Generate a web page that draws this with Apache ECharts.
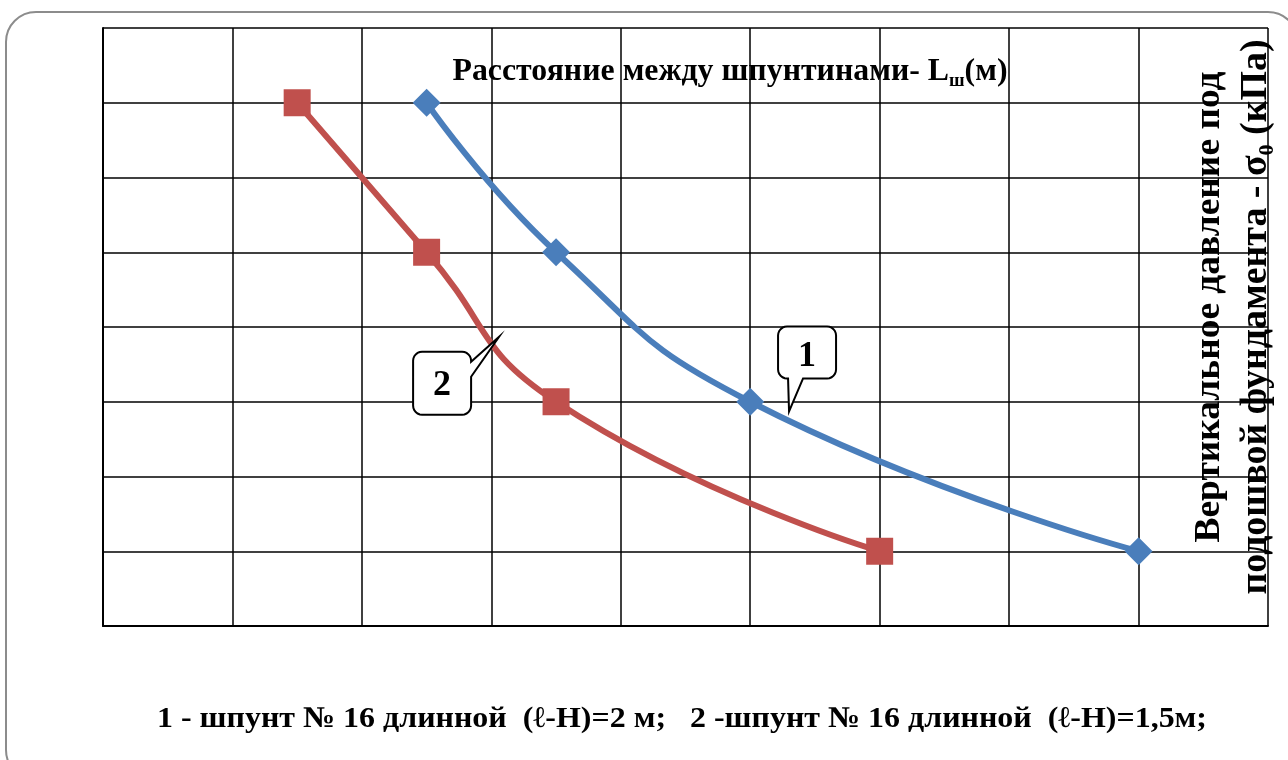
<!DOCTYPE html>
<html>
<head>
<meta charset="utf-8">
<script src="https://cdn.jsdelivr.net/npm/echarts@6/dist/echarts.min.js"></script>
<style>
html,body{margin:0;padding:0;background:#fff;}
#chart{width:1288px;height:760px;}
</style>
</head>
<body>
<div id="chart"></div>
<script>
// ---- data ----
const series1Name = '1';
const series1X = [2.5, 3.5, 5, 8];
const series1Y = [7, 5, 3, 1];
const series2Name = '2';
const series2X = [1.5, 2.5, 3.5, 6];
const series2Y = [7, 5, 3, 1];
const xRange = [0, 9];
const yRange = [0, 8];
const xTitleMain = 'Расстояние между шпунтинами- L';
const xTitleSub = 'ш';
const xTitleEnd = '(м)';
const yTitle1 = 'Вертикальное давление под';
const yTitle2a = 'подошвой фундамента - σ';
const yTitle2sub = '0';
const yTitle2b = ' (кПа)';
const legendText = '1 - шпунт № 16 длинной  (ℓ-H)=2 м;   2 -шпунт № 16 длинной  (ℓ-H)=1,5м;';
const callout1Tip = [5.3, 2.87];
const callout2Tip = [3.06, 3.87];

const FAM = '"Liberation Serif","Times New Roman",serif';
const chart = echarts.init(document.getElementById('chart'));

const axisCommon = {
  type: 'value',
  interval: 1,
  axisLine: {show: true, onZero: false, lineStyle: {color: '#000', width: 2}},
  axisTick: {show: false},
  axisLabel: {show: false},
  splitLine: {show: true, lineStyle: {color: '#000', width: 1.5}}
};

chart.setOption({
  animation: false,
  backgroundColor: '#fff',
  grid: {left: 103, top: 28, width: 1165, height: 598, show: false},
  xAxis: Object.assign({}, axisCommon, {min: xRange[0], max: xRange[1]}),
  yAxis: Object.assign({}, axisCommon, {min: yRange[0], max: yRange[1]}),
  series: [
    {
      name: series1Name, type: 'line', smooth: 0.5,
      data: series1X.map((x, i) => [x, series1Y[i]]),
      symbol: 'diamond', symbolSize: 28,
      lineStyle: {color: '#4a7ebb', width: 6},
      itemStyle: {color: '#4a7ebb'}, z: 3
    },
    {
      name: series2Name, type: 'line', smooth: 0.5,
      data: series2X.map((x, i) => [x, series2Y[i]]),
      symbol: 'rect', symbolSize: 27,
      lineStyle: {color: '#c0504d', width: 6},
      itemStyle: {color: '#c0504d'}, z: 3
    }
  ]
});

const ctx = document.createElement('canvas').getContext('2d');
function w(text, size) { ctx.font = 'bold ' + size + 'px ' + FAM; return ctx.measureText(text).width; }

function corner(pts, cx, cy, r, a0, a1) {
  const n = 6;
  for (let i = 0; i <= n; i++) {
    const a = a0 + (a1 - a0) * i / n;
    pts.push([cx + r * Math.cos(a), cy + r * Math.sin(a)]);
  }
}
function calloutRight(bx, by, bw, bh, r, p1, p2, tip) {
  const pts = [];
  corner(pts, bx + r, by + r, r, Math.PI, 1.5 * Math.PI);
  corner(pts, bx + bw - r, by + r, r, 1.5 * Math.PI, 2 * Math.PI);
  pts.push([bx + bw, p1], tip, [bx + bw, p2]);
  corner(pts, bx + bw - r, by + bh - r, r, 0, 0.5 * Math.PI);
  corner(pts, bx + r, by + bh - r, r, 0.5 * Math.PI, Math.PI);
  return pts;
}
function calloutBottom(bx, by, bw, bh, r, p1, p2, tip) {
  const pts = [];
  corner(pts, bx + r, by + r, r, Math.PI, 1.5 * Math.PI);
  corner(pts, bx + bw - r, by + r, r, 1.5 * Math.PI, 2 * Math.PI);
  corner(pts, bx + bw - r, by + bh - r, r, 0, 0.5 * Math.PI);
  pts.push([p2, by + bh], tip, [p1, by + bh]);
  corner(pts, bx + r, by + bh - r, r, 0.5 * Math.PI, Math.PI);
  return pts;
}

const t1 = chart.convertToPixel({gridIndex: 0}, callout1Tip);
const t2 = chart.convertToPixel({gridIndex: 0}, callout2Tip);

const b2 = {x: t2[0] - 86, y: t2[1] + 15, w: 58, h: 63};
const b1 = {x: t1[0] - 11, y: t1[1] - 85, w: 58, h: 52};

const xtSize = 31, xtSub = 18;
const xtW = w(xTitleMain, xtSize) + w(xTitleSub, xtSub) + w(xTitleEnd, xtSize);
const xtScale = 555 / xtW;
const y1Size = 36;
const y1Scale = 471 / w(yTitle1, y1Size);
const y2Size = 38, y2Sub = 22;
const y2W = w(yTitle2a, y2Size) + w(yTitle2sub, y2Sub) + w(yTitle2b, y2Size);
const y2Scale = 555 / y2W;
const lgSize = 30;
const lgScale = 1050 / w(legendText, lgSize);

chart.setOption({
  graphic: [
    {
      type: 'rect', silent: true, z: 0,
      shape: {x: 6, y: 12, width: 1292, height: 768, r: 30},
      style: {fill: 'none', stroke: '#8c8c8c', lineWidth: 2}
    },
    {
      type: 'text', x: 730, y: 72, scaleX: xtScale, z: 10,
      style: {
        text: '{m|' + xTitleMain + '}{s|' + xTitleSub + '}{m|' + xTitleEnd + '}',
        align: 'center', verticalAlign: 'middle', fill: '#000',
        rich: {
          m: {fontFamily: FAM, fontWeight: 'bold', fontSize: xtSize, lineHeight: 36, fill: '#000'},
          s: {fontFamily: FAM, fontWeight: 'bold', fontSize: xtSub, lineHeight: 18, verticalAlign: 'bottom', fill: '#000'}
        }
      }
    },
    {
      type: 'text', x: 1210, y: 307, rotation: Math.PI / 2, scaleX: y1Scale, z: 10,
      style: {
        text: yTitle1, align: 'center', verticalAlign: 'middle', fill: '#000',
        font: 'bold ' + y1Size + 'px ' + FAM
      }
    },
    {
      type: 'text', x: 1256, y: 317, rotation: Math.PI / 2, scaleX: y2Scale, z: 10,
      style: {
        text: '{m|' + yTitle2a + '}{s|' + yTitle2sub + '}{m|' + yTitle2b + '}',
        align: 'center', verticalAlign: 'middle', fill: '#000',
        rich: {
          m: {fontFamily: FAM, fontWeight: 'bold', fontSize: y2Size, lineHeight: 44, fill: '#000'},
          s: {fontFamily: FAM, fontWeight: 'bold', fontSize: y2Sub, lineHeight: 22, verticalAlign: 'bottom', fill: '#000'}
        }
      }
    },
    {
      type: 'text', x: 682, y: 719, scaleX: lgScale, z: 10,
      style: {
        text: legendText, align: 'center', verticalAlign: 'middle', fill: '#000',
        font: 'bold ' + lgSize + 'px ' + FAM
      }
    },
    {
      type: 'polygon', z: 20,
      shape: {points: calloutRight(b2.x, b2.y, b2.w, b2.h, 9, b2.y + 10, b2.y + 25, t2)},
      style: {fill: '#fff', stroke: '#000', lineWidth: 2}
    },
    {
      type: 'text', z: 21, x: b2.x + b2.w / 2, y: b2.y + b2.h / 2 + 2,
      style: {text: series2Name, align: 'center', verticalAlign: 'middle', fill: '#000', font: 'bold 36px ' + FAM}
    },
    {
      type: 'polygon', z: 20,
      shape: {points: calloutBottom(b1.x, b1.y, b1.w, b1.h, 9, b1.x + 10, b1.x + 25, t1)},
      style: {fill: '#fff', stroke: '#000', lineWidth: 2}
    },
    {
      type: 'text', z: 21, x: b1.x + b1.w / 2, y: b1.y + b1.h / 2 + 4,
      style: {text: series1Name, align: 'center', verticalAlign: 'middle', fill: '#000', font: 'bold 36px ' + FAM}
    }
  ]
});
</script>
</body>
</html>
